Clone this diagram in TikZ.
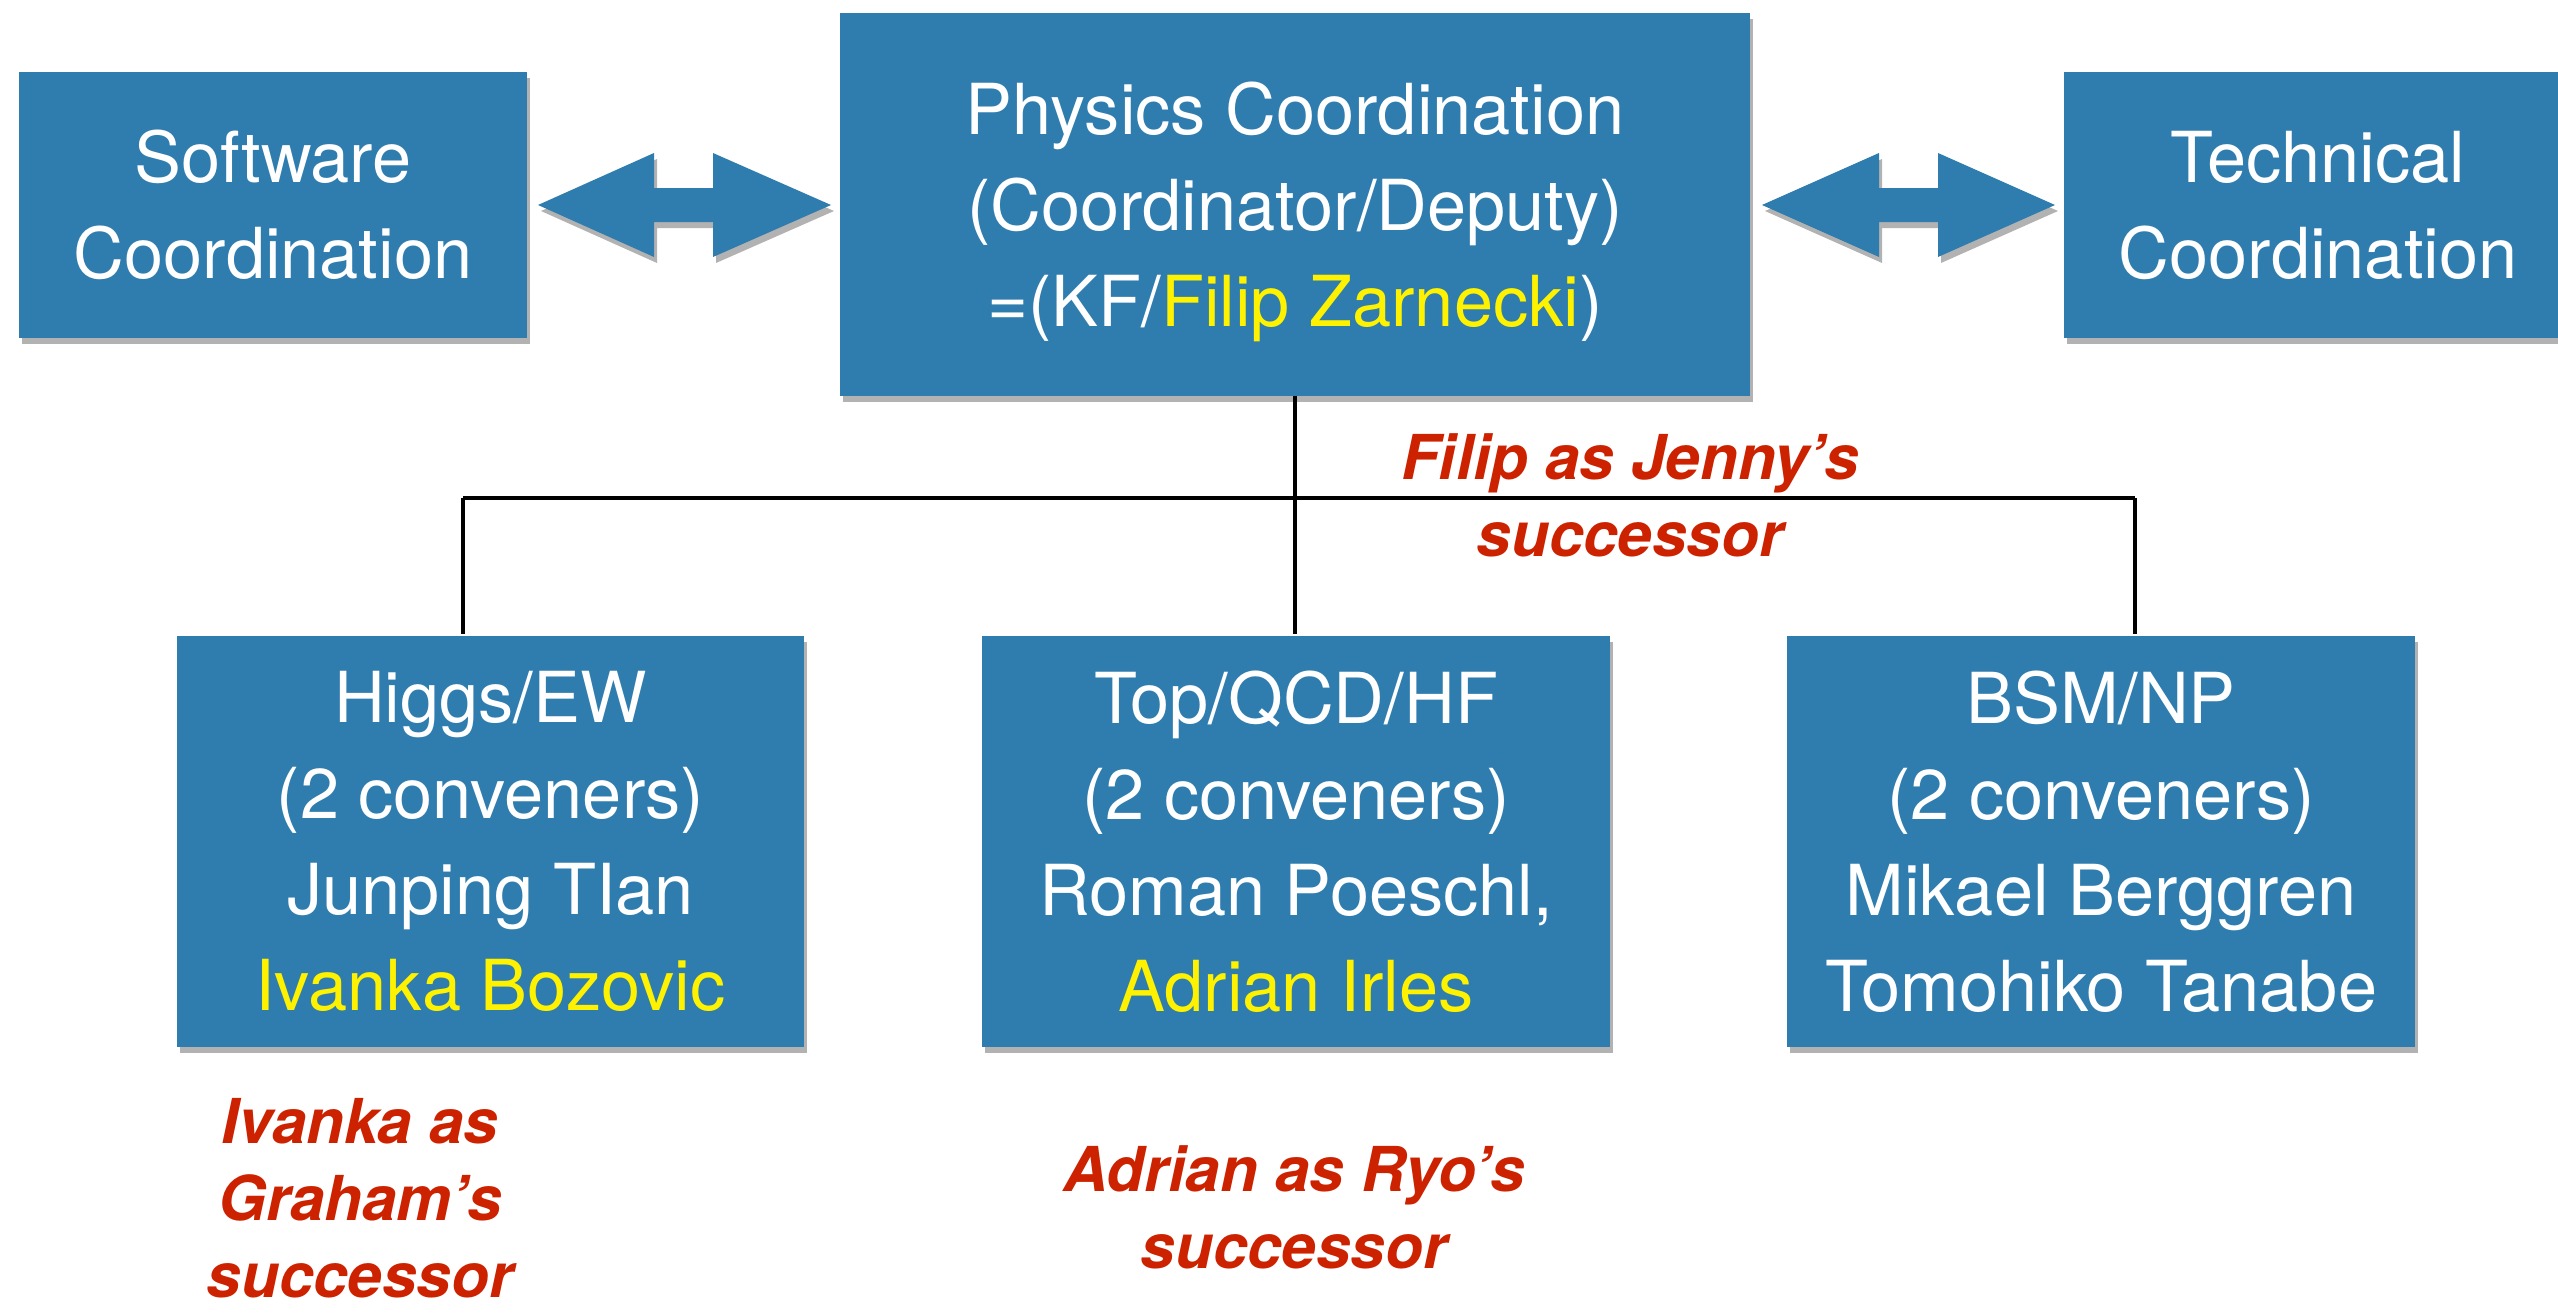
\documentclass[tikz,border=0pt]{standalone}
\usepackage{fontspec}
\setmainfont{TeX Gyre Heros}
\usetikzlibrary{shadows}
\definecolor{panel}{RGB}{47,125,174}
\definecolor{note}{RGB}{204,34,0}
\tikzstyle{shade}=[drop shadow={shadow xshift=0.03cm, shadow yshift=-0.06cm, opacity=0.3, fill=black}]
\tikzstyle{box}=[rectangle, fill=panel, shade, inner sep=0pt, align=center, text=white, font=\fontsize{20}{27.3}\selectfont]
\tikzstyle{note}=[inner sep=0pt, align=center, text=note, font=\fontsize{17.6}{21.9}\selectfont\bfseries\itshape]

\begin{document}
\begin{tikzpicture}[x=0.01cm, y=-0.01cm, line width=1.3pt]
	\path[use as bounding box, fill=white] (0,0) rectangle (2558,1312);
% Tree lines
	\coordinate (barL) at (463,498);
	\coordinate (barR) at (2135,498);
	\draw (1295,396) -- (1295,498);
	\draw (barL) -- (barR);
% Top row
	\node[box, minimum width=5.08cm, minimum height=2.66cm] (soft) at (273,205) {Software\\Coordination};
	\node[box, minimum width=9.10cm, minimum height=3.83cm] (phys) at (1295,204.5) {Physics Coordination\\(Coordinator/Deputy)\\\raisebox{0pt}[\height][0pt]{=(KF/\textcolor{yellow}{Filip Zarnecki})}};
	\node[box, minimum width=5.08cm, minimum height=2.66cm] (tech) at (2318,205) {Technical\\Coordination};
% Groups
	\node[box, minimum width=6.27cm, minimum height=4.11cm] (higgs) at (490.5,841.5) {Higgs/EW\\(2 conveners)\\Junping TIan\\\textcolor{yellow}{Ivanka Bozovic}};
	\node[box, minimum width=6.27cm, minimum height=4.11cm] (topqcd) at (1296,841.5) {Top/QCD/HF\\(2 conveners)\\Roman Poeschl,\\\textcolor{yellow}{Adrian Irles}};
	\node[box, minimum width=6.27cm, minimum height=4.11cm] (bsm) at (2101,841.5) {BSM/NP\\(2 conveners)\\Mikael Berggren\\Tomohiko Tanabe};
	\draw (barL) -- (barL |- higgs.north);
	\draw (phys.south |- barL) -- (phys.south |- topqcd.north);
	\draw (barR) -- (barR |- bsm.north);
% Double arrows
	\fill[panel, shade] (538,205) -- (654,153) -- (654,188) -- (713,188) -- (713,153) -- (831,205)
		-- (713,257) -- (713,222) -- (654,222) -- (654,257) -- cycle;
	\fill[panel, shade] (1762,205) -- (1879,153) -- (1879,188) -- (1938,188) -- (1938,153) -- (2055,205)
		-- (1938,257) -- (1938,222) -- (1879,222) -- (1879,257) -- cycle;
% Successor notes
	\node[note] (filip) at (1630,495.5) {Filip as Jenny's\\successor};
	\node[note] (ivanka) at (360,1198) {Ivanka as\\Graham's\\successor};
	\node[note] (adrian) at (1294,1207.5) {Adrian as Ryo's\\successor};
\end{tikzpicture}
\end{document}
